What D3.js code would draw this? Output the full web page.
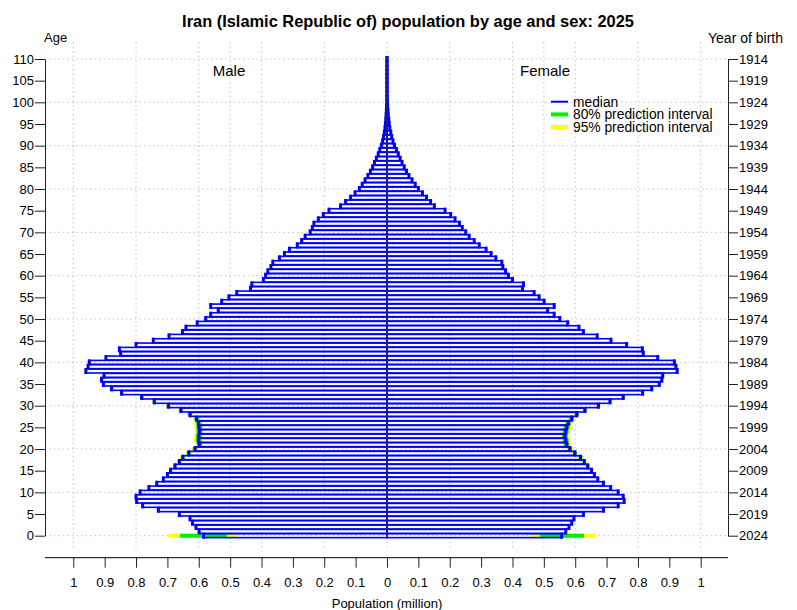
<!DOCTYPE html>
<html><head><meta charset="utf-8">
<script src="https://cdn.jsdelivr.net/npm/d3@7"></script>
<style>body{margin:0;background:#fff}svg{display:block;font-family:"Liberation Sans",Arial,sans-serif}</style>
</head><body><svg id="c" width="797" height="610"></svg>
<script>
const title = "Iran (Islamic Republic of) population by age and sex: 2025";
const ages = d3.range(0, 111);
const ageTicks = d3.range(0, 111, 5);
const popTicks = d3.range(-10, 11).map(d => d / 10);
const gridAges = d3.range(0, 111, 10);
const gridPop = [-1, -0.8, -0.6, -0.5, -0.4, -0.2, 0, 0.2, 0.4, 0.5, 0.6, 0.8, 1];
const baseYear = 2024;

const male = [0.585,0.599,0.609,0.620,0.628,0.662,0.729,0.779,0.798,0.800,
0.787,0.759,0.734,0.713,0.700,0.690,0.676,0.662,0.651,0.632,
0.612,0.598,0.601,0.600,0.598,0.599,0.601,0.607,0.628,0.657,
0.697,0.742,0.782,0.846,0.878,0.904,0.910,0.902,0.960,0.953,
0.949,0.896,0.849,0.853,0.800,0.745,0.695,0.652,0.641,0.605,
0.578,0.562,0.538,0.562,0.527,0.504,0.479,0.435,0.431,0.394,
0.387,0.380,0.370,0.364,0.343,0.327,0.311,0.286,0.272,0.261,
0.245,0.238,0.233,0.219,0.203,0.185,0.148,0.132,0.116,0.102,
0.088,0.079,0.070,0.061,0.053,0.046,0.040,0.034,0.028,0.023,
0.018,0.014,0.011,0.0085,0.0065,0.005,0.0038,0.0028,0.002,0.0015,
0.001,0.0007,0.0005,0.0003,0.0002,0.00015,0.0001,0.00007,0.00005,0.00003,0.00002];

const female = [0.557,0.570,0.580,0.589,0.596,0.626,0.690,0.737,0.756,0.753,
0.737,0.713,0.690,0.672,0.661,0.652,0.640,0.629,0.617,0.599,
0.583,0.573,0.570,0.567,0.570,0.573,0.578,0.589,0.605,0.631,
0.674,0.711,0.753,0.815,0.844,0.868,0.876,0.879,0.925,0.921,
0.916,0.863,0.817,0.814,0.764,0.714,0.670,0.626,0.612,0.576,
0.551,0.533,0.512,0.533,0.501,0.485,0.469,0.432,0.435,0.400,
0.387,0.378,0.369,0.366,0.347,0.332,0.316,0.294,0.278,0.262,
0.251,0.240,0.231,0.217,0.203,0.185,0.151,0.139,0.126,0.113,
0.100,0.090,0.080,0.070,0.062,0.055,0.048,0.042,0.036,0.030,
0.024,0.019,0.015,0.012,0.009,0.007,0.0055,0.004,0.003,0.0022,
0.0015,0.001,0.0007,0.0005,0.0003,0.0002,0.00013,0.00008,0.00005,0.00003,0.00002];

// prediction intervals at age 0 (lower, upper)
const male0PI95 = [0.477, 0.697];
const male0PI80 = [0.511, 0.660];
const female0PI95 = [0.456, 0.663];
const female0PI80 = [0.488, 0.628];
// half widths of the intervals for ages 1..40
const pi95Half = [0.003,0.003,0.003,0.003,0.004,0.004,0.004,0.004,0.004,0.004,
0.004,0.004,0.004,0.005,0.006,0.007,0.008,0.009,0.010,0.012,
0.013,0.014,0.014,0.014,0.014,0.013,0.012,0.010,0.009,0.008,
0.007,0.007,0.006,0.006,0.006,0.006,0.005,0.005,0.005,0.005];
const pi80Half = [0.002,0.002,0.002,0.002,0.0025,0.0025,0.0025,0.0025,0.0025,0.0025,
0.0025,0.0025,0.0025,0.003,0.004,0.0045,0.005,0.006,0.006,0.007,
0.008,0.009,0.009,0.009,0.009,0.008,0.007,0.006,0.0055,0.005,
0.0045,0.0045,0.004,0.004,0.004,0.004,0.003,0.003,0.003,0.003];

const svg = d3.select("#c");
const x = d3.scaleLinear().domain([-1, 1]).range([73.3, 700.7]);
const y = d3.scaleLinear().domain([0, 110]).range([535.7, 59]);
const left = 45, right = 728, plotTop = 42, plotBot = 550, axisY = 557.7;

// grid
const g = svg.append("g").attr("stroke", "#c4c4c4").attr("stroke-width", 1).attr("stroke-dasharray", "1.5,3");
g.selectAll("line.h").data(gridAges).join("line").attr("class","h")
  .attr("x1", left).attr("x2", right).attr("y1", d => y(d)).attr("y2", d => y(d));
g.selectAll("line.v").data(gridPop).join("line").attr("class","v")
  .attr("x1", d => x(d)).attr("x2", d => x(d)).attr("y1", plotTop).attr("y2", plotBot);

// intervals
const piRows = [];
ages.forEach(a => {
  if (a === 0) {
    piRows.push({a, lvl: 95, lo: -male0PI95[1], hi: -male0PI95[0]});
    piRows.push({a, lvl: 95, lo: female0PI95[0], hi: female0PI95[1]});
    piRows.push({a, lvl: 80, lo: -male0PI80[1], hi: -male0PI80[0]});
    piRows.push({a, lvl: 80, lo: female0PI80[0], hi: female0PI80[1]});
  } else if (a <= pi95Half.length) {
    const h95 = pi95Half[a - 1], h80 = pi80Half[a - 1];
    piRows.push({a, lvl: 95, lo: -male[a] - h95, hi: -male[a] + h95});
    piRows.push({a, lvl: 95, lo: female[a] - h95, hi: female[a] + h95});
    piRows.push({a, lvl: 80, lo: -male[a] - h80, hi: -male[a] + h80});
    piRows.push({a, lvl: 80, lo: female[a] - h80, hi: female[a] + h80});
  }
});
svg.append("g").selectAll("line").data(piRows.sort((p, q) => q.lvl - p.lvl)).join("line")
  .attr("x1", d => x(d.lo)).attr("x2", d => x(d.hi)).attr("y1", d => y(d.a)).attr("y2", d => y(d.a))
  .attr("stroke", d => d.lvl === 95 ? "#ffff00" : "#00ee00").attr("stroke-width", 4);

// bars
const bars = [];
ages.forEach(a => { bars.push({a, v: -male[a]}); bars.push({a, v: female[a]}); });
const bh = 0.45;
svg.append("g").selectAll("rect").data(bars).join("rect")
  .attr("x", d => Math.min(x(0), x(d.v))).attr("width", d => Math.abs(x(d.v) - x(0)))
  .attr("y", d => y(d.a + bh)).attr("height", d => y(d.a - bh) - y(d.a + bh))
  .attr("fill", "none").attr("stroke", "#0000ff").attr("stroke-width", 1.6);
svg.append("g").selectAll("line").data(bars).join("line")
  .attr("x1", d => x(d.v)).attr("x2", d => x(d.v)).attr("y1", d => y(d.a) - 3).attr("y2", d => y(d.a) + 3)
  .attr("stroke", "#0000ff").attr("stroke-width", 3);
svg.append("line").attr("x1", x(0)).attr("x2", x(0)).attr("y1", y(-0.5)).attr("y2", y(110.5))
  .attr("stroke", "#1a1a8a").attr("stroke-width", 2);

// axes
const ax = svg.append("g").attr("font-size", 13);
const la = d3.axisLeft(y).tickValues(ageTicks).tickSize(10).tickSizeOuter(0).tickPadding(1).tickFormat(d3.format("d"));
ax.append("g").attr("transform", `translate(${left},0)`).call(la);
const ra = d3.axisRight(y).tickValues(ageTicks).tickSize(10).tickSizeOuter(0).tickPadding(1).tickFormat(d => baseYear - d);
ax.append("g").attr("transform", `translate(${right},0)`).call(ra);
const ba = d3.axisBottom(x).tickValues(popTicks).tickSize(10).tickSizeOuter(0).tickPadding(10).tickFormat(d => String(Math.abs(Math.round(d*10)/10)));
const bg = ax.append("g").attr("transform", `translate(0,${axisY})`).call(ba);
bg.select(".domain").remove();
bg.append("line").attr("x1", left).attr("x2", right).attr("stroke", "#000");
ax.selectAll("text").attr("font-size", 13).attr("font-family", "Liberation Sans, Arial, sans-serif").attr("fill", "#000");
ax.selectAll(".tick line, .domain").attr("stroke", "#222");

// texts
svg.append("text").attr("x", 408).attr("y", 26.7).attr("text-anchor", "middle").attr("font-weight", "bold").attr("font-size", 16.4).text(title);
svg.append("text").attr("x", 44).attr("y", 42.3).attr("font-size", 13).text("Age");
svg.append("text").attr("x", 783).attr("y", 42.7).attr("text-anchor", "end").attr("font-size", 14).text("Year of birth");
svg.append("text").attr("x", 229).attr("y", 76).attr("text-anchor", "middle").attr("font-size", 15).text("Male");
svg.append("text").attr("x", 545).attr("y", 76).attr("text-anchor", "middle").attr("font-size", 15).text("Female");
svg.append("text").attr("x", x(0)).attr("y", 608).attr("text-anchor", "middle").attr("font-size", 13).text("Population (million)");

// legend
const leg = [{t: "median", c: "#0000ff", w: 2}, {t: "80% prediction interval", c: "#00ee00", w: 4}, {t: "95% prediction interval", c: "#ffff00", w: 4}];
const lg = svg.append("g").selectAll("g").data(leg).join("g").attr("transform", (d, i) => `translate(0,${101.7 + i * 12.7})`);
lg.append("line").attr("x1", 551).attr("x2", 568).attr("stroke", d => d.c).attr("stroke-width", d => d.w);
lg.append("text").attr("x", 573).attr("dy", "0.35em").attr("font-size", 13.8).text(d => d.t);
</script></body></html>
